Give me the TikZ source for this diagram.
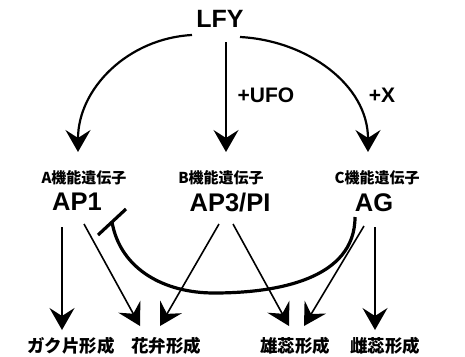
\documentclass[tikz,border=0pt]{standalone}
\usepackage{fontspec}
\setmainfont{Liberation Sans}
\newfontfamily\jp{Noto Sans CJK JP}
\usetikzlibrary{arrows.meta}
\begin{document}
\begin{tikzpicture}[x=1pt,y=-1pt,
  lfy/.style={font=\bfseries\fontsize{25}{25}\selectfont, inner sep=1pt},
  gene/.style={font=\bfseries\fontsize{25.5}{26}\selectfont, inner sep=1pt},
  plus/.style={font=\bfseries\fontsize{21}{21}\selectfont, inner sep=1pt},
  jpa/.style={font=\jp\bfseries\fontsize{15}{15}\selectfont, inner sep=1pt},
  jpb/.style={font=\jp\bfseries\fontsize{17.5}{18}\selectfont, inner sep=1pt},
  headtip/.style={-{Stealth[length=22pt,width=25pt,inset=8pt]}},
  arcline/.style={headtip, line width=2.2pt},
  midline/.style={headtip, line width=1.6pt},
  outline/.style={headtip, line width=1.6pt},
  repress/.style={line width=3.2pt},
]
\useasboundingbox (0,0) rectangle (465,356);
% text nodes
\node[lfy] (LFY) at (220,19) {LFY};
\node[plus] (ufo) at (266,95) {+UFO};
\node[plus] (xx) at (382,95) {+X};
\node[jpa] (Alab) at (84,178) {A機能遺伝子};
\node[jpa] (Blab) at (221,178) {B機能遺伝子};
\node[jpa] (Clab) at (377,178) {C機能遺伝子};
\node[gene] (AP1) at (77,202) {AP1};
\node[gene] (AP3) at (230,203) {AP3/PI};
\node[gene] (AG) at (374,203) {AG};
\node[jpb] (sep) at (71,346) {ガク片形成};
\node[jpb] (pet) at (166,346) {花弁形成};
\node[jpb] (sta) at (295,346) {雄蕊形成};
\node[jpb] (car) at (385,346) {雌蕊形成};
% connector end points
\coordinate (LFYl) at (192,35);
\coordinate (LFYm) at (226,42);
\coordinate (LFYr) at (240,37);
\coordinate (Ain) at (78,152);
\coordinate (Bin) at (226,152);
\coordinate (Cin) at (368,152);
\coordinate (AP1a) at (62,227);
\coordinate (AP1b) at (84,224);
\coordinate (AP3a) at (219,224);
\coordinate (AP3b) at (233,224);
\coordinate (AGa) at (364,226);
\coordinate (AGb) at (375,227);
\coordinate (sepIn) at (62,330);
\coordinate (petInL) at (140,326);
\coordinate (petInR) at (160,326);
\coordinate (staInL) at (289,326);
\coordinate (staInR) at (304,326);
\coordinate (carIn) at (375,330);
\coordinate (AGrep) at (355,217);
\coordinate (repLow) at (214,293);
\coordinate (Tend) at (112,222);
% LFY arrows
\draw[arcline] (LFYl) to[out=183,in=90] (Ain);
\draw[midline] (LFYm) -- (Bin);
\draw[arcline] (LFYr) to[out=-3,in=90] (Cin);
% output arrows
\draw[outline] (AP1a) -- (sepIn);
\draw[outline] (AP1b) -- (petInL);
\draw[outline] (AP3a) -- (petInR);
\draw[outline] (AP3b) -- (staInL);
\draw[outline] (AGa) -- (staInR);
\draw[outline] (AGb) -- (carIn);
% repression
\draw[repress] (AGrep) to[out=-90,in=0] (repLow) to[out=180,in=-80] (Tend);
\draw[repress] ([shift={(-14,13)}]Tend) -- ([shift={(14,-13)}]Tend);
\end{tikzpicture}
\end{document}
